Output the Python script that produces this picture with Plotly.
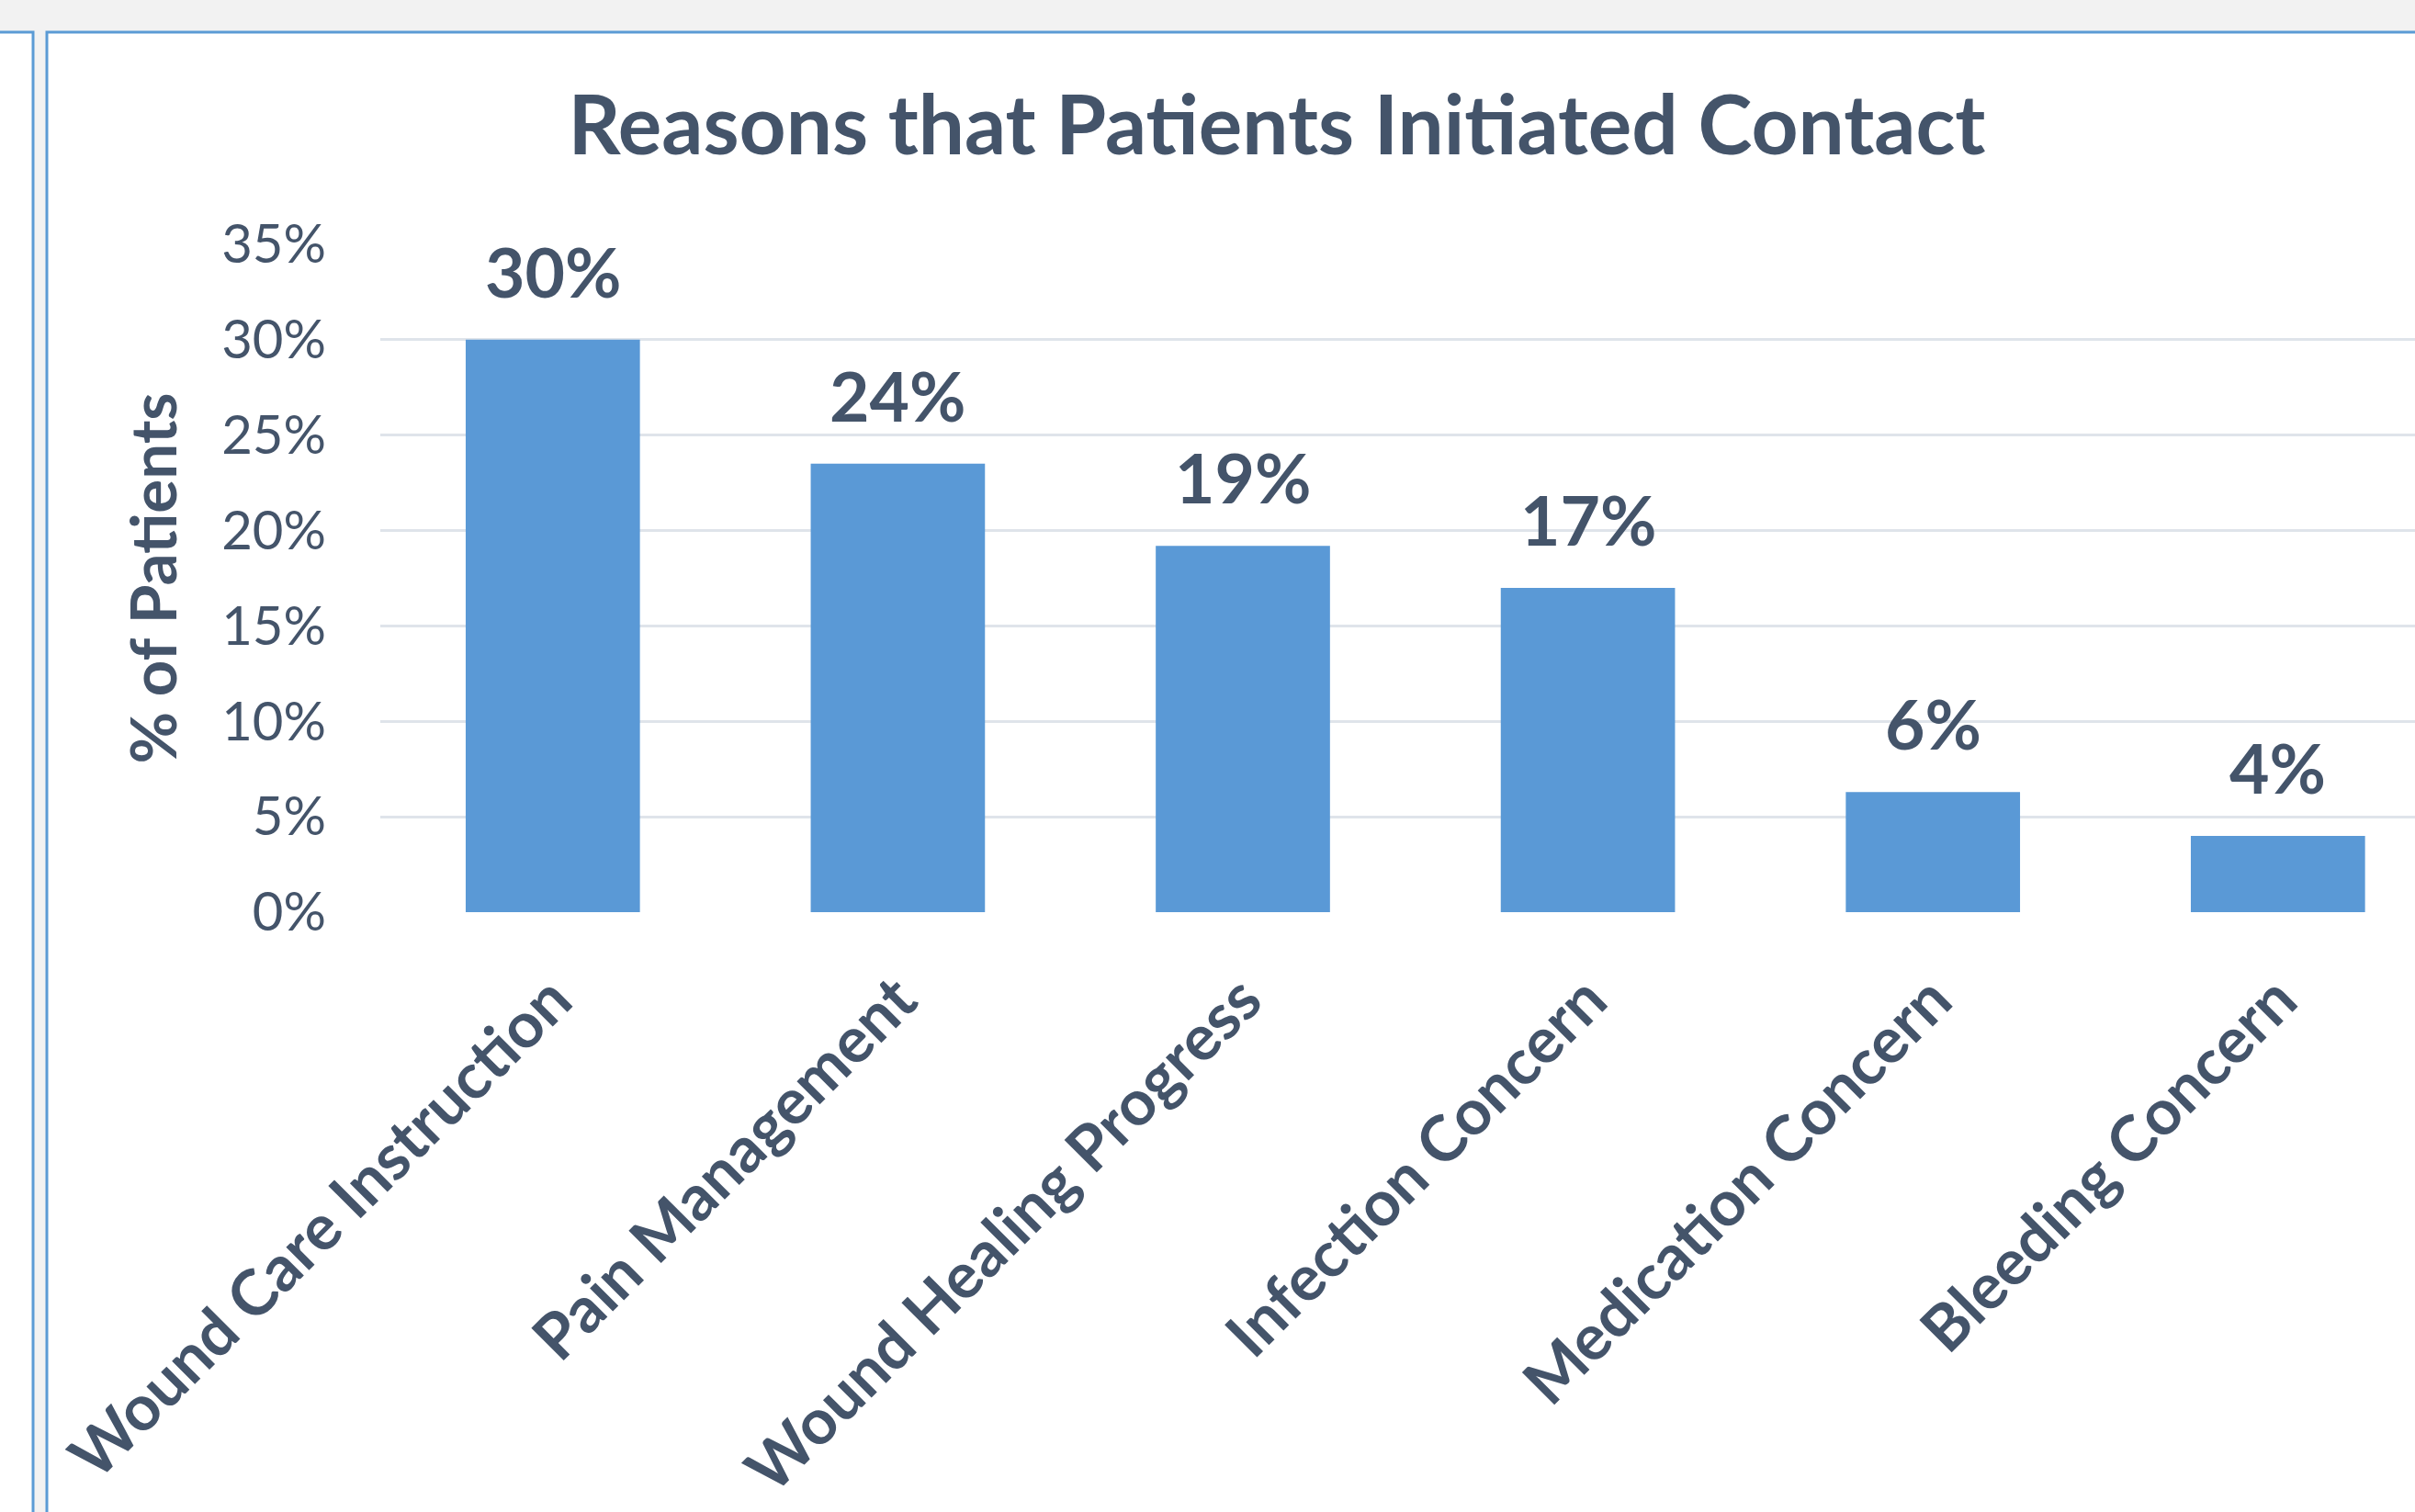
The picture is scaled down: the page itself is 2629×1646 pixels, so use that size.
import plotly.graph_objects as go

categories = ["Wound Care Instruction", "Pain Management", "Wound Healing Progress",
              "Infection Concern", "Medication Concern", "Bleeding Concern"]
values = [0.300, 0.235, 0.192, 0.170, 0.063, 0.040]
labels = ["30%", "24%", "19%", "17%", "6%", "4%"]
y_ticks = [0, 0.05, 0.10, 0.15, 0.20, 0.25, 0.30, 0.35]
y_tick_text = ["0%", "5%", "10%", "15%", "20%", "25%", "30%", "35%"]

W, H = 2629, 1646
ML, MR, MT, MB = 414, 0, 266, 653
PW = W - ML - MR
PH = H - MT - MB
TXT = "#44546A"
FONT = "Lato"


def px(xp):
    return (xp - ML) / PW


def py(yp):
    return (H - MB - yp) / PH


fig = go.Figure()
fig.add_trace(go.Bar(
    x=categories, y=values,
    marker=dict(color="#5A99D6", line=dict(width=0)),
    hoverinfo="skip",
))

for c, v, t in zip(categories, values, labels):
    fig.add_annotation(x=c, y=v, text="<b>%s</b>" % t, showarrow=False,
                       xanchor="center", yanchor="bottom", yshift=28,
                       font=dict(family=FONT, size=75, color=TXT))

# y-axis title
fig.add_annotation(xref="paper", yref="paper", x=px(165), y=0.5,
                   text="<b>% of Patients</b>", textangle=-90, showarrow=False,
                   xanchor="center", yanchor="middle",
                   font=dict(family=FONT, size=69, color=TXT))

# panel frames
BLUE = "#5B9BD5"
fig.add_shape(type="rect", xref="paper", yref="paper", layer="below",
              x0=px(-30), x1=px(36), y0=py(1720), y1=py(35),
              fillcolor="white", line=dict(color=BLUE, width=3))
fig.add_shape(type="rect", xref="paper", yref="paper", layer="below",
              x0=px(51), x1=px(2720), y0=py(1720), y1=py(35),
              fillcolor="white", line=dict(color=BLUE, width=3))

fig.update_layout(
    width=W, height=H,
    margin=dict(l=ML, r=MR, t=MT, b=MB, autoexpand=False),
    paper_bgcolor="#F2F2F2", plot_bgcolor="white",
    showlegend=False, bargap=0.495,
    title=dict(text="<b>Reasons that Patients Initiated Contact</b>",
               xref="paper", x=px(1390), xanchor="center",
               yref="container", y=1 - 137 / H, yanchor="middle",
               font=dict(family=FONT, size=89, color=TXT)),
    xaxis=dict(range=[-0.5, -0.5 + PW / 375.6], tickangle=-45,
               showgrid=False, zeroline=False, showline=False,
               ticks="", ticklabelstandoff=40,
               tickfont=dict(family=FONT, size=69, color=TXT, weight="bold")),
    yaxis=dict(range=[0, 0.35], tickvals=y_ticks, ticktext=y_tick_text,
               showgrid=True, gridcolor="#DFE4EA", gridwidth=3,
               zeroline=False, showline=False, ticks="", ticklabelstandoff=58,
               tickfont=dict(family=FONT, size=58, color=TXT)),
)

fig.write_html("out.html",
               config={"displayModeBar": False},
               post_script="document.body.style.margin='0';"
                           "document.body.style.background='#F2F2F2';")
